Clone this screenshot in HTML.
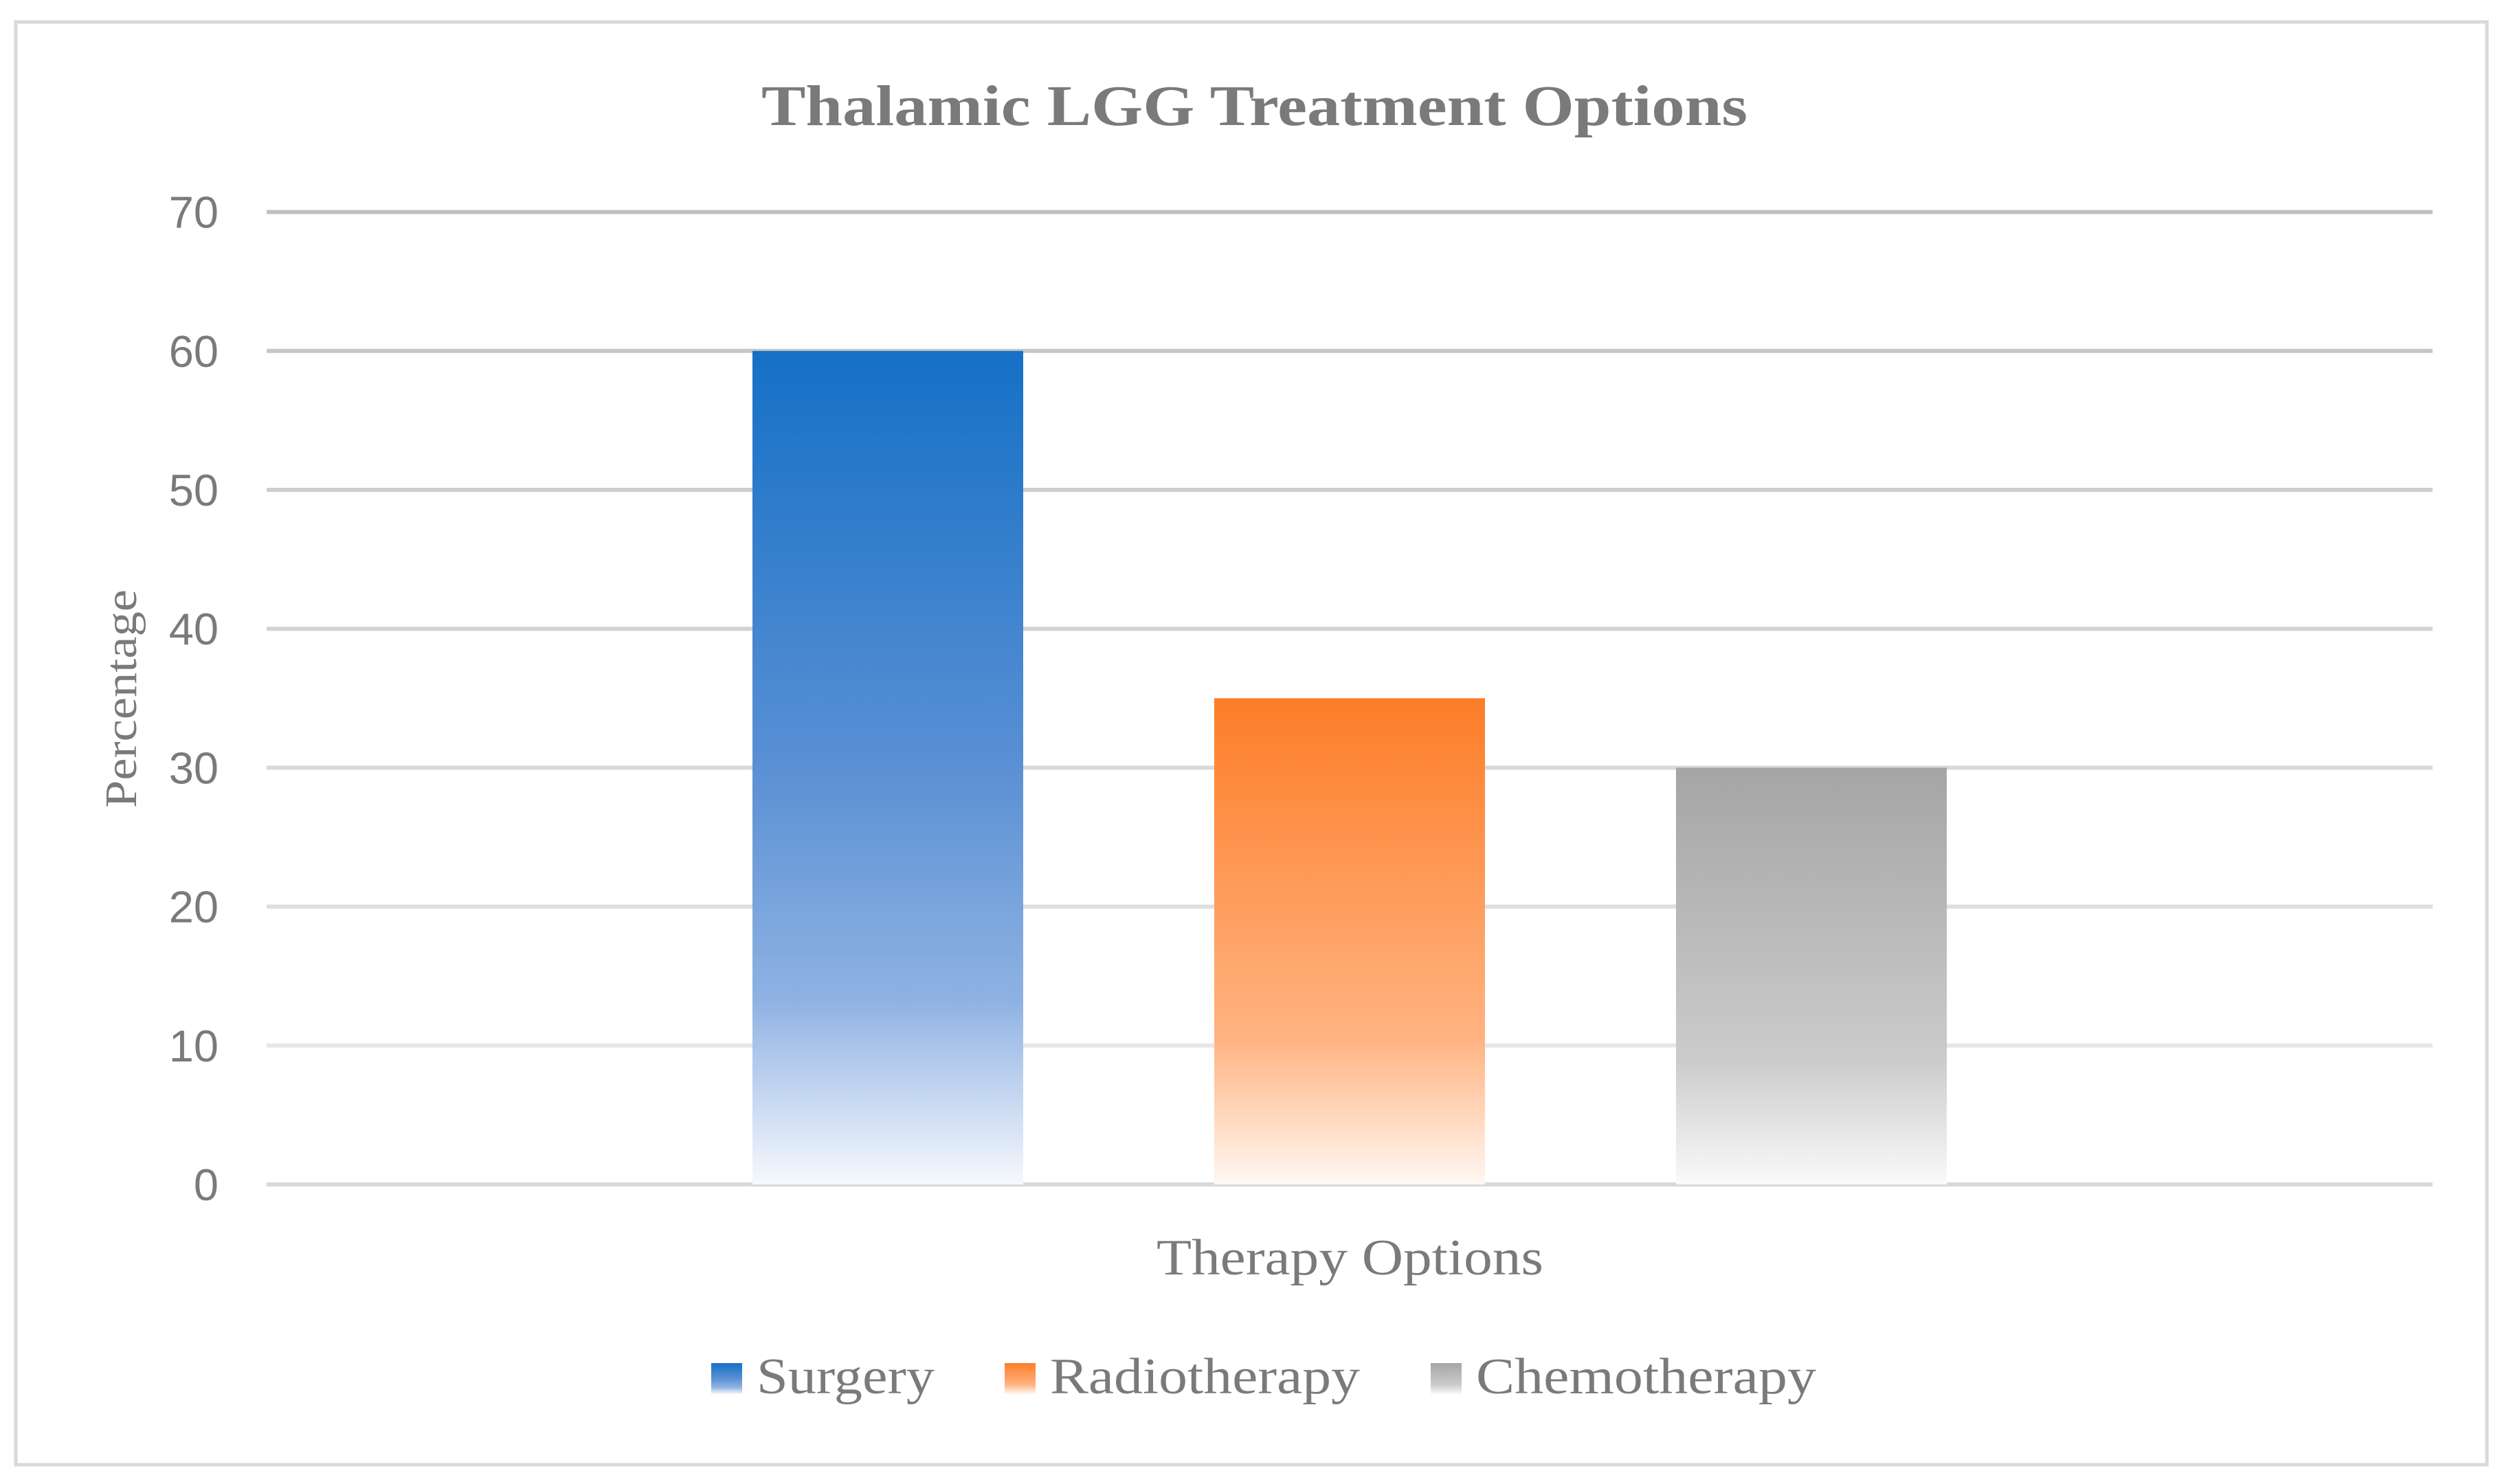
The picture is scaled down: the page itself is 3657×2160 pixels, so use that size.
<!DOCTYPE html>
<html><head><meta charset="utf-8"><style>
html,body{margin:0;padding:0;background:#fff;}
svg{display:block;}
</style></head><body>
<svg id="chart" width="3657" height="2160" viewBox="0 0 3657 2160" xmlns="http://www.w3.org/2000/svg">
<defs>
<linearGradient id="g-blue" x1="0" y1="0" x2="0" y2="1">
<stop offset="0" stop-color="#1570c6"/><stop offset="0.5" stop-color="#5a90d4"/><stop offset="0.78" stop-color="#8fb2e3"/><stop offset="1" stop-color="#f6f9fd"/></linearGradient>
<linearGradient id="g-orange" x1="0" y1="0" x2="0" y2="1">
<stop offset="0" stop-color="#fd7d28"/><stop offset="0.7" stop-color="#ffb381"/><stop offset="1" stop-color="#fff8f3"/></linearGradient>
<linearGradient id="g-gray" x1="0" y1="0" x2="0" y2="1">
<stop offset="0" stop-color="#a5a5a5"/><stop offset="0.7" stop-color="#cbcbcb"/><stop offset="1" stop-color="#fafafa"/></linearGradient>
</defs>
<rect x="23" y="32" width="3596" height="2100" fill="#fff" stroke="#d9d9d9" stroke-width="5"/>
<text x="1108" y="182" textLength="1435" lengthAdjust="spacingAndGlyphs" font-family="Liberation Serif, serif" font-weight="bold" font-size="84" fill="#7a7a7a">Thalamic LGG Treatment Options</text>
<g id="grid"></g>
<g id="bars"></g>
<g id="yticks"></g>
<text transform="translate(198,1176) rotate(-90)" textLength="318" lengthAdjust="spacingAndGlyphs" font-family="Liberation Serif, serif" font-size="66" fill="#7a7a7a">Percentage</text>
<text x="1683" y="1855" textLength="563" lengthAdjust="spacingAndGlyphs" font-family="Liberation Serif, serif" font-size="74" fill="#7a7a7a">Therapy Options</text>
<g id="legend"></g>
</svg>
<script>
const categories = ["Surgery", "Radiotherapy", "Chemotherapy"];
const values = [60, 35, 30];
const yTicks = [0, 10, 20, 30, 40, 50, 60, 70];
const fills = ["url(#g-blue)", "url(#g-orange)", "url(#g-gray)"];

const NS = "http://www.w3.org/2000/svg";
const plotL = 388, plotR = 3540, y0 = 1724, pxPerUnit = 20.22;
function yScale(v){ return y0 - v * pxPerUnit; }
const bandW = 672;
const plotC = (plotL + plotR) / 2;
function xCenter(i){ return plotC + (i - (categories.length - 1) / 2) * bandW; }
const barW = 394;

const grid = document.getElementById('grid');
yTicks.forEach((t) => {
  const l = document.createElementNS(NS, 'line');
  
  
  l.setAttribute('x1', plotL); l.setAttribute('x2', plotR);
  l.setAttribute('y1', yScale(t)); l.setAttribute('y2', yScale(t));
  const c = t === 0 ? 217 : Math.round(236 - (t / 70) * 44);
  l.setAttribute('stroke', `rgb(${c},${c},${c})`);
  l.setAttribute('stroke-width', '6');
  grid.appendChild(l);
  const tx = document.createElementNS(NS, 'text');
  
  
  tx.setAttribute('x', 318); tx.setAttribute('y', yScale(t) + 23);
  tx.setAttribute('text-anchor', 'end');
  tx.setAttribute('font-family', 'Liberation Sans, sans-serif');
  tx.setAttribute('font-size', '65');
  tx.setAttribute('fill', '#7a7a7a');
  tx.textContent = t;
  document.getElementById('yticks').appendChild(tx);
});

const bars = document.getElementById('bars');
categories.forEach((c, i) => {
  const r = document.createElementNS(NS, 'rect');
  
  
  r.setAttribute('x', xCenter(i) - barW / 2);
  r.setAttribute('y', yScale(values[i]));
  r.setAttribute('width', barW);
  r.setAttribute('height', yScale(0) - yScale(values[i]));
  r.setAttribute('fill', fills[i]);
  bars.appendChild(r);
});

const legend = document.getElementById('legend');
const legX = [1035, 1462, 2082];
const legW = [259, 451, 495];
categories.forEach((c, i) => {
  const g = document.createElementNS(NS, 'g');
  
  
  const s = document.createElementNS(NS, 'rect');
  
  
  s.setAttribute('x', legX[i]); s.setAttribute('y', 1984);
  s.setAttribute('width', 45); s.setAttribute('height', 45);
  s.setAttribute('fill', fills[i]);
  g.appendChild(s);
  const t = document.createElementNS(NS, 'text');
  
  
  t.setAttribute('x', legX[i] + 66); t.setAttribute('y', 2028);
  t.setAttribute('textLength', legW[i]);
  t.setAttribute('lengthAdjust', 'spacingAndGlyphs');
  t.setAttribute('font-family', 'Liberation Serif, serif');
  t.setAttribute('font-size', '74');
  t.setAttribute('fill', '#7a7a7a');
  t.textContent = c;
  g.appendChild(t);
  legend.appendChild(g);
});
</script>
</body></html>
